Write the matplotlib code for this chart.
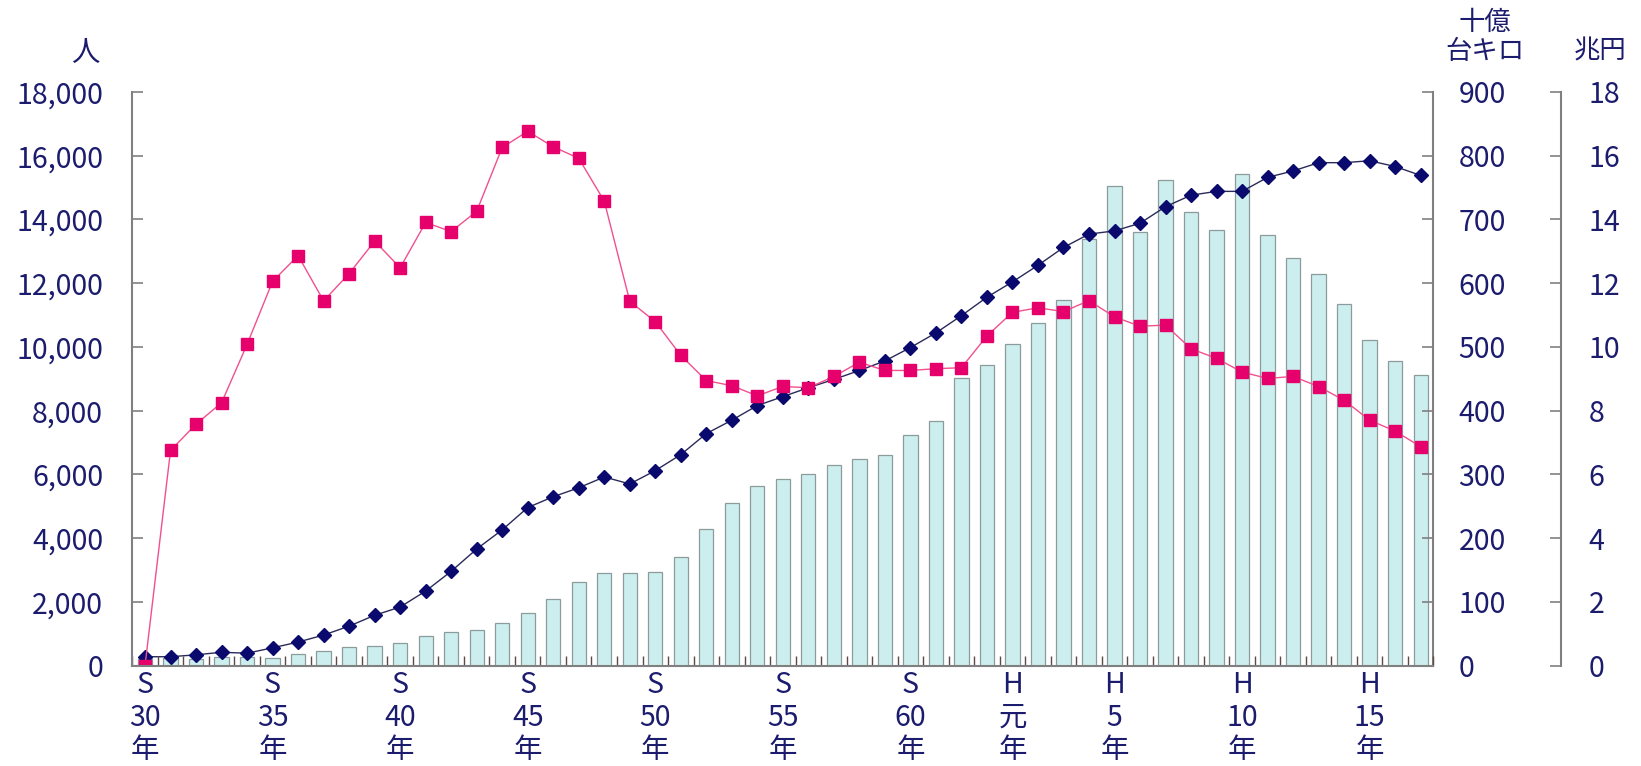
import numpy as np
from matplotlib import pyplot as plt

plt.rcParams['font.family'] = ['Noto Sans CJK JP', 'DejaVu Sans']

# S30 (1955) .. H17 (2005)
n_years = 51
tick_pos = [0, 5, 10, 15, 20, 25, 30, 34, 38, 43, 48]
tick_labels = ['S\n30\n年', 'S\n35\n年', 'S\n40\n年', 'S\n45\n年', 'S\n50\n年',
               'S\n55\n年', 'S\n60\n年', 'H\n元\n年', 'H\n5\n年', 'H\n10\n年', 'H\n15\n年']

# 人 (left axis)
deaths = [0, 6751, 7575, 8248, 10079, 12055, 12865, 11445, 12301, 13318,
          12484, 13904, 13618, 14256, 16257, 16765, 16278, 15918, 14574, 11432,
          10792, 9734, 8945, 8783, 8466, 8760, 8719, 9073, 9520, 9262,
          9261, 9317, 9347, 10344, 11086, 11227, 11109, 11451, 10942, 10649,
          10684, 9942, 9640, 9211, 9012, 9073, 8757, 8326, 7702, 7358, 6871]

# 十億台キロ (right axis 1)
vkm = [14, 14, 17, 21, 19.5, 28, 37, 48, 62, 79,
       92, 117, 148, 183, 213, 248, 265, 279, 296, 285,
       306, 331, 364, 385, 408, 422, 436, 449, 463, 478,
       499, 522, 549, 578, 602, 628, 656, 677, 682, 694,
       720, 738, 744, 744, 766, 776, 789, 789, 792, 783, 769]

# 兆円 (right axis 2, bars)
invest = [0.2, 0.25, 0.21, 0.26, 0.26, 0.24, 0.35, 0.45, 0.58, 0.63,
          0.71, 0.92, 1.05, 1.13, 1.34, 1.64, 2.09, 2.62, 2.90, 2.90,
          2.95, 3.40, 4.30, 5.10, 5.64, 5.87, 6.01, 6.29, 6.48, 6.62,
          7.25, 7.69, 9.02, 9.42, 10.09, 10.74, 11.47, 13.4, 15.04, 13.62,
          15.24, 14.22, 13.68, 15.41, 13.51, 12.78, 12.29, 11.34, 10.22, 9.56, 9.11]

navy = '#1c1c6e'
grey = '#808080'
fs = 20.5

x = np.arange(n_years)

fig = plt.figure(figsize=(16.41, 7.66), dpi=100)
ax = fig.add_axes([0.0806, 0.131, 0.7929, 0.749])
ax2 = ax.twinx()
ax3 = ax.twinx()

ax3.set_zorder(1)
ax2.set_zorder(2)
ax.set_zorder(3)
for a in (ax, ax2, ax3):
    a.patch.set_visible(False)
    for s in a.spines.values():
        s.set_visible(False)

ax3.bar(x, invest, width=0.56, color='#cdeeee', edgecolor='#8c9c9c', linewidth=0.9)
ax2.plot(x, vkm, color='#2a2a5a', linewidth=1.0, marker='D', markersize=6.8,
         markerfacecolor='#0a0a6e', markeredgecolor='#0a0a6e')
ax.plot(x, deaths, color='#f0508e', linewidth=1.0, marker='s', markersize=8,
        markerfacecolor='#e6006c', markeredgecolor='#e6006c')

ax.set_xlim(-0.5, n_years - 0.5)
ax.set_ylim(0, 18000)
ax2.set_ylim(0, 900)
ax3.set_ylim(0, 18)

ax.set_yticks(np.arange(0, 18001, 2000))
ax.set_yticklabels(['{:,}'.format(v) for v in range(0, 18001, 2000)])
ax2.set_yticks(np.arange(0, 901, 100))
ax3.set_yticks(np.arange(0, 19, 2))

ax.spines['left'].set_visible(True)
ax.spines['bottom'].set_visible(True)
ax2.spines['right'].set_visible(True)
ax3.spines['right'].set_visible(True)
ax3.spines['right'].set_position(('axes', 1.098))
for s in (ax.spines['left'], ax.spines['bottom'], ax2.spines['right'], ax3.spines['right']):
    s.set_color(grey)
    s.set_linewidth(1.5)

ax.tick_params(axis='y', direction='in', length=8, width=1.2, color=grey,
               pad=21, labelsize=fs, labelcolor=navy)
ax2.tick_params(axis='y', direction='in', length=8, width=1.2, color=grey,
                pad=18, labelsize=fs, labelcolor=navy)
ax3.tick_params(axis='y', direction='in', length=8, width=1.2, color=grey,
                pad=20, labelsize=fs, labelcolor=navy)

ax.set_xticks(tick_pos)
ax.set_xticklabels(tick_labels, linespacing=1.12)
ax.set_xticks(np.arange(-0.5, n_years, 1), minor=True)
ax.tick_params(axis='x', which='major', length=0, pad=3, labelsize=fs, labelcolor=navy)
ax.tick_params(axis='x', which='minor', direction='in', length=7, width=1.0, color='#5a4a4a')

fig.text(0.052, 0.931, '人', fontsize=fs, color=navy, ha='center', va='center')
fig.text(0.905, 0.971, '十億', fontsize=fs - 1.5, color=navy, ha='center', va='center')
fig.text(0.905, 0.933, '台キロ', fontsize=fs - 1.5, color=navy, ha='center', va='center')
fig.text(0.975, 0.933, '兆円', fontsize=fs - 1.5, color=navy, ha='center', va='center')

fig.savefig('out.png', dpi=100)
